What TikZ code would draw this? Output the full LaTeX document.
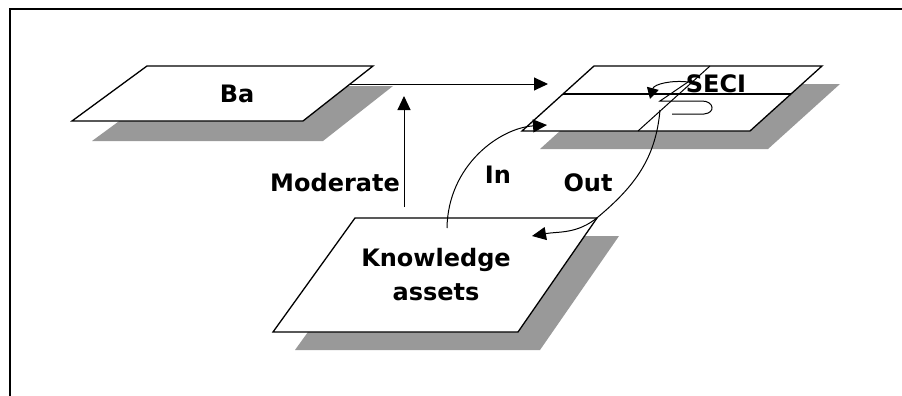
\documentclass[tikz,border=0pt]{standalone}
\usepackage{fontspec}
\newfontfamily\lblfont{DejaVu Sans}
\usetikzlibrary{arrows.meta,positioning}
\tikzstyle{plane}=[draw=black, line width=1.3pt, fill=white]
\tikzstyle{shade}=[fill=black!40]
\tikzstyle{lbl}=[font=\lblfont\bfseries\fontsize{24}{34}\selectfont, inner sep=0pt, align=center]
\tikzstyle{flow}=[line width=1pt, -{Triangle[length=14pt,width=13pt]}]
\tikzstyle{turn}=[line width=1pt, -{Triangle[length=11pt,width=12pt]}]

\begin{document}
\begin{tikzpicture}[x=1pt,y=-1pt]
 \useasboundingbox (0,0) rectangle (902,396);
 % frame
 \draw[line width=2.5pt] (902,9) -- (10,9) -- (10,396);
 % Ba plane
 \fill[shade] (167,86) -- (393,86) -- (323,141) -- (92,141) -- cycle;
 \draw[plane] (147,66) -- (373,66) -- (303,121) -- (72,121) -- cycle;
 \node[lbl] (ba) at (237,94) {Ba};
 % SECI plane
 \fill[shade] (612,84) -- (840,84) -- (768,149) -- (540,149) -- cycle;
 \draw[plane] (594,66) -- (822,66) -- (750,131) -- (522,131) -- cycle;
 \draw[line width=1.3pt] (563,94) -- (791,94);
 \draw[line width=1pt] (638,131) -- (710,66);
 \node[lbl] (seci) at (716,84) {SECI};
 % knowledge assets plane
 \fill[shade] (377,236) -- (619,236) -- (540,350) -- (295,350) -- cycle;
 \draw[plane] (355,218) -- (597,218) -- (518,332) -- (273,332) -- cycle;
 \node[lbl] (ka) at (436,275) {Knowledge\\assets};
 % labels
 \node[lbl] (mod) at (335,183) {Moderate};
 \node[lbl] (in) at (498,175) {In};
 \node[lbl] (out) at (588,183) {Out};
 % connector ends
 \coordinate (ba-e) at (350,84);
 \coordinate (seci-w) at (548,84);
 \coordinate (ka-n) at (404,207);
 \coordinate (ba-s) at (404,96);
 \coordinate (ka-in) at (447,228);
 \coordinate (seci-in) at (547,125);
 \coordinate (seci-out) at (660,110);
 \coordinate (ka-ne) at (598,217);
 \coordinate (ka-out) at (532,236);
 % arrows
 \draw[flow] (ka-n) -- (ba-s);
 \draw[flow] (ba-e) -- (seci-w);
 \draw[flow] (ka-in) .. controls (448,165) and (500,128) .. (seci-in);
 \draw[flow] (seci-out) to[out=-95,in=40] (ka-ne) to[out=220,in=10] (ka-out);
 % spiral
 \draw[line width=1pt] (672,114) -- (704,114)
   .. controls (716,113) and (714,101) .. (702,101) -- (660,101) -- (688,82);
 \draw[turn] (688,82) .. controls (672,80) and (654,84) .. (650,99);
\end{tikzpicture}
\end{document}
